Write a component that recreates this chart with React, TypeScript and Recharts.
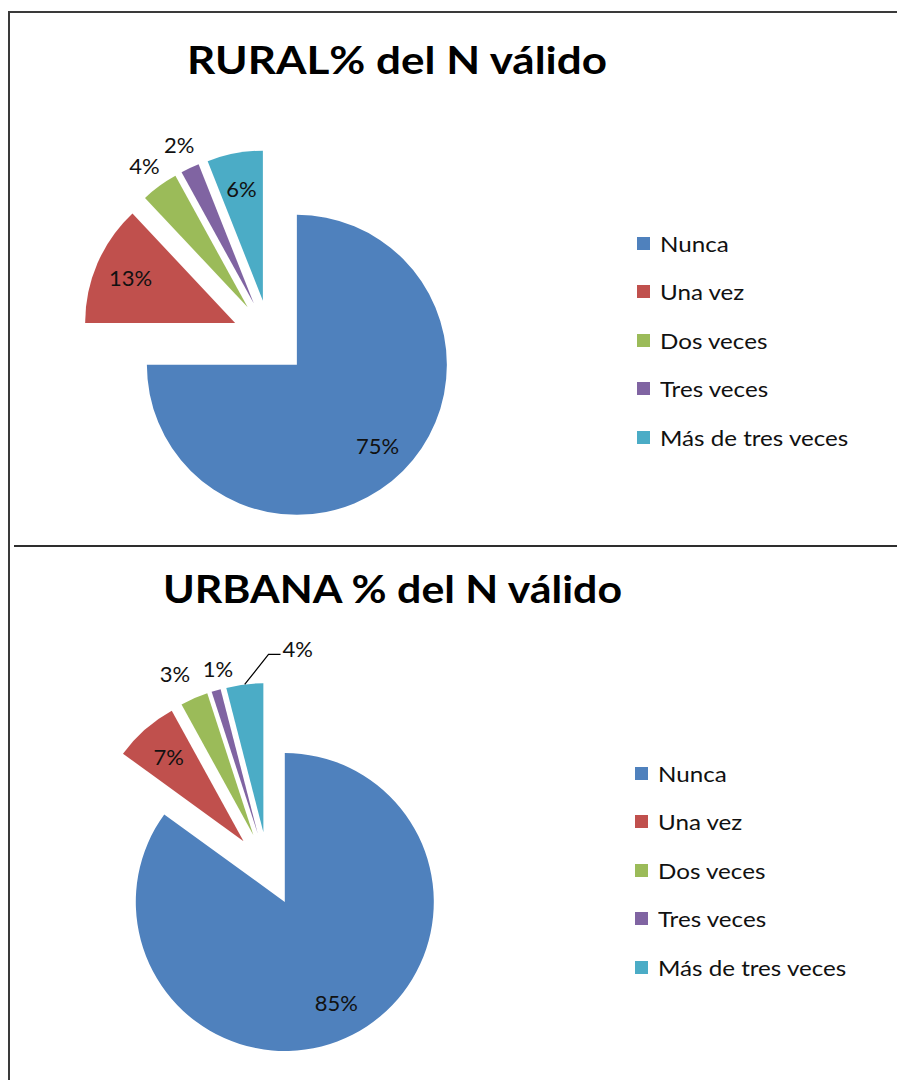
import React from 'react';
import { PieChart, Pie, Cell, Legend, Sector } from 'recharts';

const categories = ['Nunca', 'Una vez', 'Dos veces', 'Tres veces', 'Más de tres veces'];
const ruralValues = [75, 13, 4, 2, 6];
const urbanaValues = [85, 7, 3, 1, 4];
const sliceColors = ['#4F81BD', '#C0504D', '#9BBB59', '#8064A2', '#4BACC6'];
const ruralTitle = 'RURAL% del N válido';
const urbanaTitle = 'URBANA % del N válido';

const FONT = "Lato, 'Open Sans', sans-serif";
const RAD = Math.PI / 180;

const dirOf = (midAngle: number) => ({ c: Math.cos(-midAngle * RAD), s: Math.sin(-midAngle * RAD) });

function makeShape(explode: number) {
  return (props: any) => {
    const { cx, cy, midAngle, innerRadius, outerRadius, startAngle, endAngle, fill } = props;
    const { c, s } = dirOf(midAngle);
    return (
      <Sector
        cx={cx + explode * c}
        cy={cy + explode * s}
        innerRadius={innerRadius}
        outerRadius={outerRadius}
        startAngle={startAngle}
        endAngle={endAngle}
        fill={fill}
        stroke="none"
      />
    );
  };
}

type Nudge = { index: number; dx: number; dy: number; leader?: boolean };

function makeLabel(explode: number, nudges: Nudge[]) {
  return (props: any) => {
    const { cx, cy, midAngle, outerRadius, percent, index } = props;
    const { c, s } = dirOf(midAngle);
    const ox = cx + explode * c;
    const oy = cy + explode * s;
    const inside = percent >= 0.05;
    const r = inside ? outerRadius * 0.76 : outerRadius * 1.17;
    let x = ox + r * c;
    let y = oy + r * s;
    const text = `${Math.round(percent * 100)}%`;
    const style = { fontFamily: FONT, fontSize: 22, fill: '#111' };
    const nudge = nudges.find((n) => n.index === index);
    if (nudge) {
      x += nudge.dx;
      y += nudge.dy;
    }
    if (nudge && nudge.leader) {
      const sx = ox + outerRadius * c;
      const sy = oy + outerRadius * s;
      return (
        <g>
          <polyline
            points={`${sx},${sy} ${x - 30},${y + 6} ${x - 18},${y + 6}`}
            fill="none"
            stroke="#000"
            strokeWidth={1.2}
          />
          <text x={x - 16} y={y} textAnchor="start" dominantBaseline="central" {...style}>
            {text}
          </text>
        </g>
      );
    }
    return (
      <text x={x} y={y} textAnchor="middle" dominantBaseline="central" {...style}>
        {text}
      </text>
    );
  };
}

const renderLegend = (props: any) => {
  const payload = props.payload || [];
  const ordered = categories.map((name, i) => {
    const e = payload.find((p: any) => p.value === name);
    return { value: name, color: (e && e.color) || sliceColors[i] };
  });
  return (
    <div style={{ fontFamily: FONT, fontSize: 21, color: '#111' }}>
      {ordered.map((e: any, i: number) => (
        <div key={i} style={{ height: 48.5, display: 'flex', alignItems: 'center' }}>
          <span
            style={{
              width: 13,
              height: 13,
              background: e.color,
              marginRight: 10,
              display: 'inline-block',
              flex: 'none',
            }}
          />
          <span
            style={{
              whiteSpace: 'nowrap',
              display: 'inline-block',
              transform: 'scaleX(1.15)',
              transformOrigin: 'left center',
            }}
          >
            {e.value}
          </span>
        </div>
      ))}
    </div>
  );
};

type PanelProps = {
  values: number[];
  top: number;
  cx: number;
  cy: number;
  radius: number;
  explode: number;
  legendLeft: number;
  legendTop: number;
  nudges: Nudge[];
};

function PiePanel({ values, top, cx, cy, radius, explode, legendLeft, legendTop, nudges }: PanelProps) {
  const data = categories.map((name, i) => ({ name, value: values[i] }));
  const shape = makeShape(explode);
  return (
    <div style={{ position: 'absolute', left: 0, top, width: 897, height: 535 }}>
      <PieChart width={897} height={535} margin={{ top: 0, right: 0, bottom: 0, left: 0 }}>
        <Pie
          data={data}
          dataKey="value"
          nameKey="name"
          cx={cx}
          cy={cy}
          outerRadius={radius}
          startAngle={90}
          endAngle={-270}
          stroke="none"
          isAnimationActive={false}
          shape={shape}
          activeShape={shape}
          inactiveShape={shape}
          label={makeLabel(explode, nudges)}
          labelLine={false}
        >
          {data.map((d, i) => (
            <Cell key={d.name} fill={sliceColors[i]} />
          ))}
        </Pie>
        <Legend
          content={renderLegend}
          wrapperStyle={{ left: legendLeft, top: legendTop, width: 250, position: 'absolute' }}
        />
      </PieChart>
    </div>
  );
}

export default function App() {
  return (
    <div style={{ position: 'absolute', left: 0, top: 0, width: 897, height: 1080, background: '#fff', overflow: 'hidden' }}>
      <PiePanel
        values={ruralValues}
        top={0}
        cx={270}
        cy={338}
        radius={150}
        explode={38}
        legendLeft={637}
        legendTop={219}
        nudges={[]}
      />
      <PiePanel
        values={urbanaValues}
        top={545}
        cx={268}
        cy={324}
        radius={149}
        explode={37}
        legendLeft={635}
        legendTop={204}
        nudges={[
          { index: 2, dx: -9, dy: -2 },
          { index: 3, dx: 9, dy: 2 },
          { index: 4, dx: 57, dy: -11, leader: true },
        ]}
      />
      <svg
        width={897}
        height={1080}
        style={{ position: 'absolute', left: 0, top: 0, pointerEvents: 'none' }}
      >
        <line x1={8} y1={12} x2={897} y2={12} stroke="#3a3a3a" strokeWidth={2} />
        <line x1={9} y1={11} x2={9} y2={1080} stroke="#3a3a3a" strokeWidth={2} />
        <line x1={14} y1={546} x2={897} y2={546} stroke="#2e2e2e" strokeWidth={2} />
        <text
          x={187}
          y={74}
          textLength={420}
          lengthAdjust="spacingAndGlyphs"
          fontFamily={FONT}
          fontWeight={700}
          fontSize={38}
          fill="#000"
        >
          {ruralTitle}
        </text>
        <text
          x={163}
          y={603}
          textLength={459}
          lengthAdjust="spacingAndGlyphs"
          fontFamily={FONT}
          fontWeight={700}
          fontSize={38}
          fill="#000"
        >
          {urbanaTitle}
        </text>
      </svg>
    </div>
  );
}
